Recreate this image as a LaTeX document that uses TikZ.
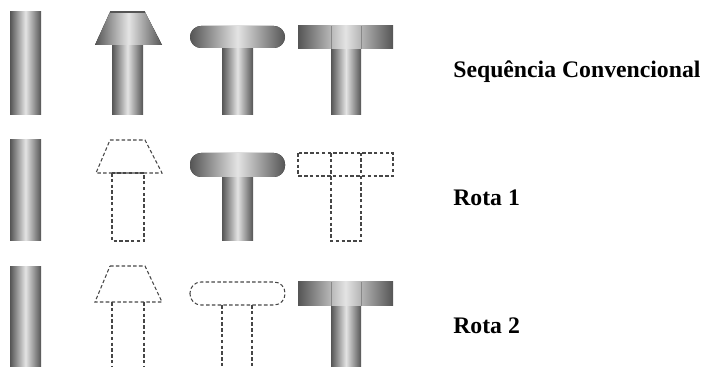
\documentclass[tikz,border=0pt]{standalone}
\usepackage{fontspec}
\setmainfont{Liberation Serif}
\definecolor{steeldark}{RGB}{85, 85, 85}
\definecolor{steellight}{RGB}{228, 228, 228}
\definecolor{ghostgrey}{RGB}{70, 70, 70}
\tikzstyle{metal} = [
  left color=steeldark,
  right color=steeldark,
  middle color=steellight,
]
\tikzstyle{ghost} = [
  draw=ghostgrey,
  line width=0.6pt,
  dash pattern=on 2pt off 1.3pt,
]
\tikzstyle{route} = [
  anchor=base west,
  inner sep=0pt,
  font=\bfseries\fontsize{13.5}{16}\selectfont,
]

\begin{document}
\begin{tikzpicture}[x=0.02cm, y=-0.02cm]
            \useasboundingbox (0,0) rectangle (704,367);
            \clip (0,0) rectangle (704,367);
            \def\corner{0.22cm}

            % Row 1: all four stages formed
            \fill[metal] (10,12) rectangle (41,115);
            \fill[metal] (112,45) rectangle (143,115);
            \fill[metal] (110,12) -- (145,12) -- (162,45) -- (95,45) -- cycle;
            \draw[steeldark, line width=1pt] (110,12) -- (145,12);
            \fill[metal] (222,48) rectangle (253,115);
            \fill[metal, rounded corners=\corner] (190,26) rectangle (285,48);
            \fill[metal] (331,49) rectangle (361,115);
            \fill[metal] (298,26) rectangle (393,49);
            \draw[steeldark!70] (331,26) -- (331,49) (361,26) -- (361,49);

            % Row 2: first stage skipped, last stage skipped
            \fill[metal] (10,140) rectangle (41,241);
            \draw[ghost] (110,140) -- (145,140) -- (162,173) -- (96,173) -- cycle;
            \draw[ghost] (112,173) rectangle (144,241);
            \fill[metal] (222,177) rectangle (253,241);
            \fill[metal, rounded corners=\corner] (190,153) rectangle (285,177);
            \draw[ghost] (298,153) rectangle (393,176);
            \draw[ghost] (331,153) -- (331,241) -- (361,241) -- (361,153);

            % Row 3: only the flat head is formed
            \fill[metal] (10,267) rectangle (41,370);
            \draw[ghost] (110,266) -- (145,266) -- (162,302) -- (95,302) -- cycle;
            \draw[ghost] (112,302) -- (112,370) (144,302) -- (144,370);
            \draw[ghost, rounded corners=\corner] (190,282) rectangle (285,305);
            \draw[ghost] (222,305) -- (222,370) (252,305) -- (252,370);
            \fill[metal] (331,306) rectangle (361,370);
            \fill[metal] (298,282) rectangle (393,306);
            \draw[steeldark!70] (331,282) -- (331,306) (361,282) -- (361,306);

            % Labels
            \node[route] (conv) at (453,78) {Sequência Convencional};
            \node[route] (rota1) at (453,206) {Rota 1};
            \node[route] (rota2) at (453,334) {Rota 2};
          \end{tikzpicture}
\end{document}
